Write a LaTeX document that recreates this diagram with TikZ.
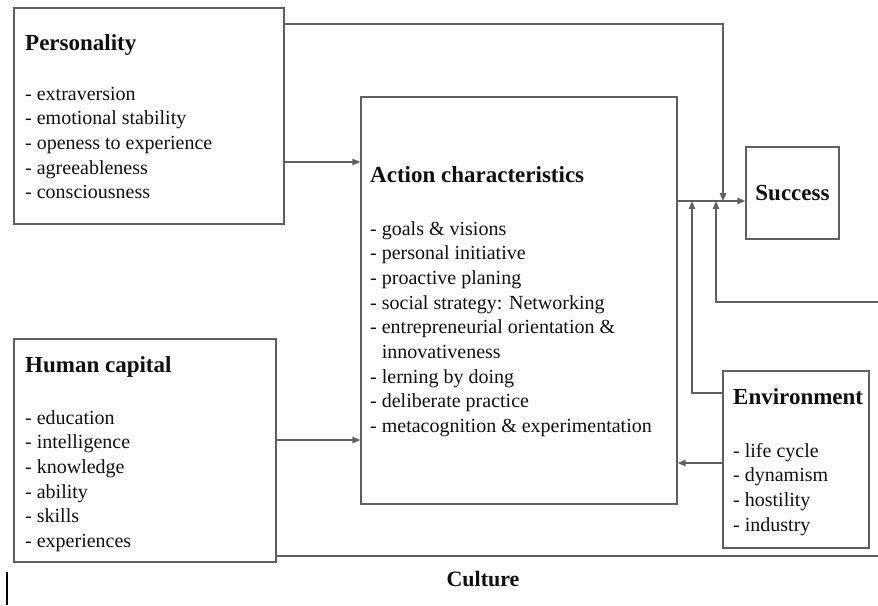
\documentclass[tikz,border=0pt]{standalone}
\usepackage{fontspec}
\setmainfont{Liberation Serif}
\usetikzlibrary{arrows.meta}
\definecolor{linegray}{RGB}{95,95,95}
\definecolor{inkgray}{RGB}{15,15,15}

\begin{document}
\begin{tikzpicture}[x=1pt,y=-1pt,
  box/.style={draw=linegray, line width=1.4pt, inner sep=0pt},
  link/.style={draw=linegray, line width=1.4pt},
  arr/.style={link, -{Triangle[length=8pt,width=6.5pt]}},
  title/.style={anchor=base west, inner sep=0pt, text=inkgray,
    font=\fontsize{23}{27}\selectfont\bfseries},
  items/.style={anchor=base west, inner sep=0pt, text=inkgray,
    font=\fontsize{20}{24.7}\selectfont},
]
\useasboundingbox (0,0) rectangle (878,605);

% boxes
\node[box, minimum width=270pt, minimum height=216pt] (pers) at (149,116) {};
\node[box, minimum width=316pt, minimum height=407pt] (act) at (519,300.5) {};
\node[box, minimum width=93pt, minimum height=92pt, text=inkgray,
  font=\fontsize{23}{27}\selectfont\bfseries] (succ) at (792.5,193) {Success};
\node[box, minimum width=262pt, minimum height=223pt] (hc) at (145,450.5) {};
\node[box, minimum width=146pt, minimum height=177pt] (env) at (796,459.5) {};

% box contents
\node[title] (persT) at (25,50) {Personality};
\node[items] (persL) at (25,100) {\begin{tabular}[t]{@{}l@{}}
- extraversion\\
- emotional stability\\
- openess to experience\\
- agreeableness\\
- consciousness
\end{tabular}};

\node[title] (actT) at (370,182) {Action characteristics};
\node[items] (actL) at (370,235) {\begin{tabular}[t]{@{}l@{}}
- goals \& visions\\
- personal initiative\\
- proactive planing\\
- social strategy: Networking\\
- entrepreneurial orientation \&\\
\phantom{- }innovativeness\\
- lerning by doing\\
- deliberate practice\\
- metacognition \& experimentation
\end{tabular}};

\node[title] (hcT) at (25,372) {Human capital};
\node[items] (hcL) at (25,424) {\begin{tabular}[t]{@{}l@{}}
- education\\
- intelligence\\
- knowledge\\
- ability\\
- skills\\
- experiences
\end{tabular}};

\node[title] (envT) at (733,404) {Environment};
\node[items] (envL) at (733,457) {\begin{tabular}[t]{@{}l@{}}
- life cycle\\
- dynamism\\
- hostility\\
- industry
\end{tabular}};

\node[anchor=base, inner sep=0pt, text=inkgray,
  font=\fontsize{22}{26}\selectfont\bfseries] (culture) at (483,586) {Culture};

% levels and turning points of the connectors
\coordinate (yTop) at (0,24);
\coordinate (yPA) at (0,162);
\coordinate (ySucc) at (0,201);
\coordinate (yCult) at (0,302);
\coordinate (yEnvUp) at (0,393);
\coordinate (yHA) at (0,440);
\coordinate (yEnvAct) at (0,463);
\coordinate (yCultBase) at (0,556);
\coordinate (xEnvUp) at (692,0);
\coordinate (xCult) at (716,0);
\coordinate (xTop) at (723,0);
\coordinate (rim) at (878,0);
\coordinate (tickA) at (7,572);
\coordinate (tickB) at (7,605);

% connectors
\draw[arr] (pers.east |- yTop) -| (xTop |- ySucc);
\draw[arr] (pers.east |- yPA) -- (act.west |- yPA);
\draw[arr] (hc.east |- yHA) -- (act.west |- yHA);
\draw[arr] (act.east |- ySucc) -- (succ.west |- ySucc);
\draw[arr] (env.west |- yEnvUp) -| (xEnvUp |- ySucc);
\draw[arr] (rim |- yCult) -| (xCult |- ySucc);
\draw[arr] (env.west |- yEnvAct) -- (act.east |- yEnvAct);
\draw[link] (hc.east |- yCultBase) -- (rim |- yCultBase);
\draw[black, line width=1.2pt] (tickA) -- (tickB);
\end{tikzpicture}
\end{document}
